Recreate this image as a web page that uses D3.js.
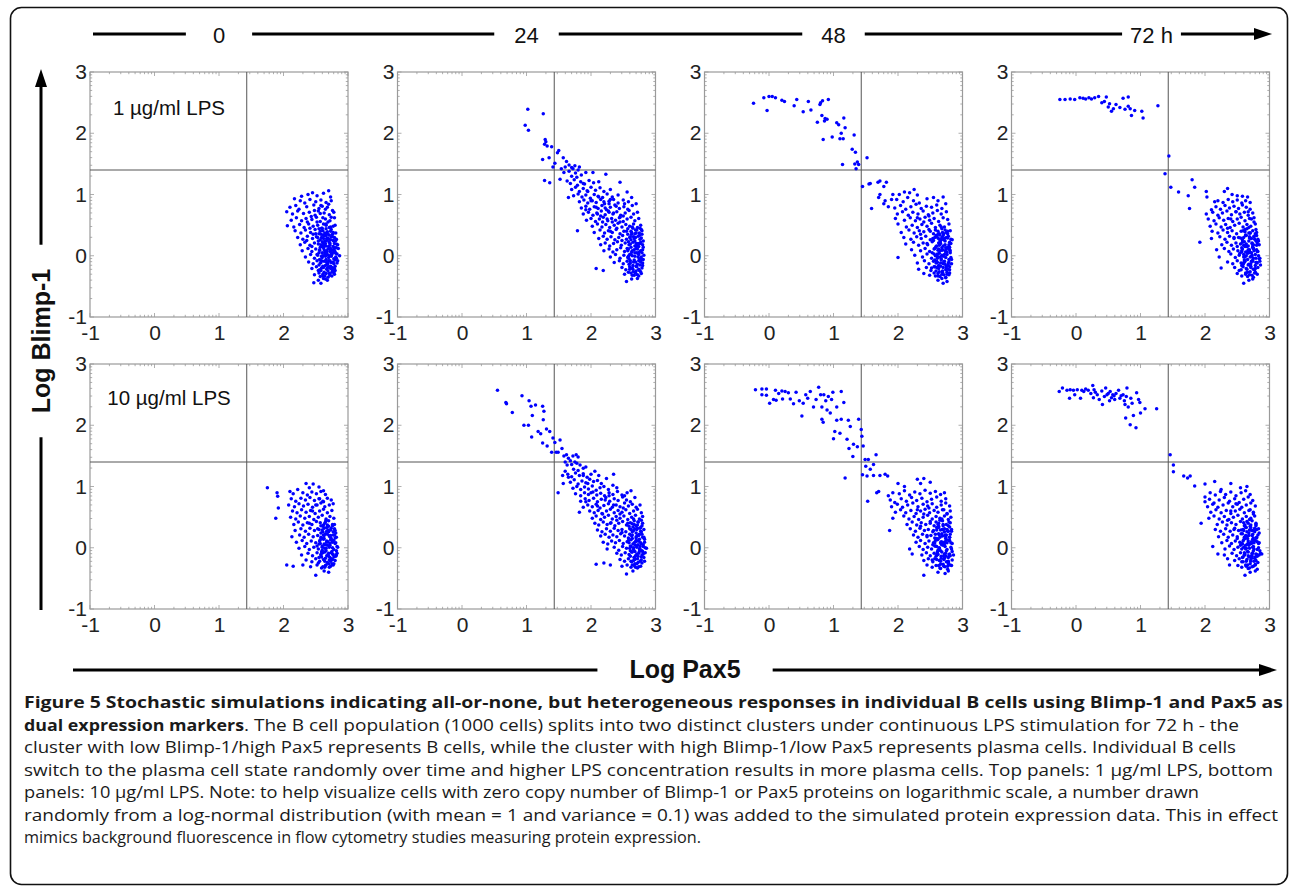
<!DOCTYPE html>
<html>
<head>
<meta charset="utf-8">
<script src="https://cdn.jsdelivr.net/npm/d3@7"></script>
<style>
  body { margin: 0; background: #fff; }
  svg text { font-family: "Liberation Sans", Arial, sans-serif; }
  .caption { font-family: "Open Sans", "Noto Sans", sans-serif; font-size: 15.5px; }
</style>
</head>
<body>
<svg width="1290" height="890"></svg>
<script>
// ---- data (log10 Pax5, log10 Blimp-1) ----
const lps1_0h = `
2.28,0.97 2.38,1.00 2.45,1.03 2.52,0.98 2.62,1.02 2.70,1.06 2.73,0.96
2.17,0.93 2.26,0.90 2.33,0.86 2.41,0.92 2.50,0.88 2.58,0.91 2.66,0.87 2.74,0.90
2.10,0.79 2.19,0.82 2.24,0.76 2.36,0.80 2.47,0.83 2.55,0.77 2.60,0.81 2.68,0.79 2.76,0.74
2.05,0.72 2.14,0.68 2.22,0.73 2.31,0.69 2.40,0.71 2.49,0.66 2.54,0.73 2.63,0.70 2.71,0.67 2.78,0.71
2.12,0.58 2.20,0.62 2.28,0.57 2.35,0.61 2.44,0.59 2.51,0.63 2.57,0.56 2.65,0.60 2.72,0.57 2.79,0.62
2.06,0.49 2.16,0.47 2.25,0.51 2.32,0.46 2.39,0.52 2.46,0.48 2.53,0.50 2.59,0.45 2.66,0.52 2.73,0.47 2.80,0.50
2.18,0.41 2.27,0.37 2.34,0.42 2.42,0.38 2.49,0.43 2.55,0.36 2.61,0.41 2.68,0.39 2.74,0.43 2.81,0.37
2.22,0.30 2.30,0.27 2.37,0.32 2.45,0.28 2.51,0.31 2.57,0.26 2.63,0.33 2.69,0.29 2.76,0.31 2.82,0.27
2.26,0.18 2.33,0.22 2.41,0.17 2.48,0.21 2.54,0.19 2.60,0.23 2.66,0.16 2.72,0.20 2.78,0.24 2.84,0.18
2.29,0.08 2.38,0.12 2.44,0.07 2.50,0.11 2.56,0.09 2.62,0.13 2.67,0.06 2.73,0.10 2.79,0.08 2.85,0.12
2.34,-0.02 2.42,0.02 2.48,-0.04 2.53,0.01 2.59,-0.01 2.64,0.03 2.70,-0.03 2.75,0.02 2.81,-0.02 2.87,0.00
2.39,-0.10 2.46,-0.13 2.52,-0.08 2.57,-0.12 2.63,-0.09 2.68,-0.14 2.74,-0.11 2.80,-0.07
2.44,-0.21 2.51,-0.18 2.56,-0.23 2.62,-0.19 2.67,-0.22 2.73,-0.17 2.79,-0.21
2.48,-0.31 2.55,-0.28 2.61,-0.33 2.66,-0.29 2.72,-0.32 2.78,-0.27
2.47,-0.44 2.54,-0.40 2.58,-0.45 2.65,-0.38
2.58,0.35 2.64,0.24 2.71,0.34 2.77,0.15 2.60,0.05 2.66,-0.06 2.72,0.07 2.78,-0.05 2.61,-0.17 2.69,-0.25
2.75,-0.19 2.81,0.04 2.57,0.14 2.63,-0.27 2.70,0.15 2.76,-0.24 2.59,-0.20 2.65,0.20 2.73,0.26 2.79,0.30
2.62,0.28 2.68,0.02 2.74,-0.01 2.80,0.13 2.56,-0.06 2.67,-0.11 2.71,-0.29 2.77,0.38 2.64,0.37 2.83,-0.12
2.58,-0.24 2.69,0.11 2.75,0.09 2.82,0.19 2.61,0.00 2.67,0.25 2.72,-0.08 2.78,-0.13 2.63,0.10 2.70,-0.18
2.76,0.05 2.80,-0.17 2.66,0.33 2.73,0.40 2.59,0.30 2.54,0.24 2.69,-0.35 2.75,-0.33 2.57,-0.34 2.65,-0.01
2.71,0.22 2.77,0.25 2.83,0.03 2.60,0.16 2.68,-0.20
2.37,0.55 2.43,0.64 2.48,0.74 2.52,0.55 2.57,0.69 2.62,0.52 2.41,0.45 2.46,0.35 2.55,0.44 2.61,0.62
2.69,0.55 2.74,0.63 2.36,0.25 2.44,0.15 2.50,0.36 2.58,0.82 2.65,0.76 2.70,0.84
2.52,0.02 2.55,-0.15 2.58,0.18 2.61,-0.30 2.64,0.06 2.67,0.28 2.70,-0.08 2.73,0.12 2.76,-0.20 2.79,0.20
2.82,-0.04 2.53,0.30 2.56,0.10 2.59,-0.08 2.62,0.20 2.65,-0.16 2.68,0.36 2.71,0.00 2.74,0.31 2.77,-0.10
2.80,0.06 2.84,-0.08 2.54,-0.24 2.57,0.40 2.60,-0.03 2.63,0.16 2.66,0.44 2.69,-0.12 2.72,0.17 2.75,-0.27
2.78,0.11 2.81,0.25 2.55,0.05 2.58,-0.11 2.61,0.34 2.64,-0.33 2.67,0.08 2.70,0.27 2.73,-0.21 2.76,0.35
2.79,-0.30 2.82,0.13 2.60,0.45 2.66,0.50 2.71,0.46 2.77,0.48 2.62,-0.37 2.68,-0.40 2.74,0.03 2.80,-0.24`;

const lps1_24h = `
1.02,2.39 0.98,2.13 1.03,2.05 1.26,2.32 1.29,1.90 1.28,1.82 1.32,1.79 1.39,1.78 1.50,1.72 1.25,1.57
1.44,1.51 1.41,1.45 1.28,1.23 1.36,1.19 1.52,1.25 1.57,1.60 1.62,1.54 1.54,1.42 1.60,1.45 1.66,1.48
1.70,1.44 1.30,1.86 1.48,1.68 1.35,1.60 1.58,1.36 1.79,0.41
1.66,1.38 1.72,1.42 1.76,1.35 1.80,1.40 1.85,1.32 1.70,1.30 1.78,1.28 1.92,1.36 1.75,1.47 1.82,1.45
1.63,1.22 1.68,1.18 1.74,1.24 1.79,1.15 1.84,1.21 1.90,1.17 1.97,1.23 2.04,1.19 2.12,1.21 2.23,1.33 2.03,1.36
1.70,1.08 1.76,1.12 1.82,1.05 1.88,1.10 1.94,1.06 2.00,1.12 2.07,1.07 2.14,1.11 2.20,1.05 2.30,1.08 2.45,1.20
1.65,0.95 1.73,0.98 1.80,1.01 1.86,0.96 1.92,0.99 1.99,0.94 2.05,1.00 2.11,0.97 2.18,0.95 2.25,1.01 2.33,0.96 2.42,0.99 2.56,1.04
1.82,0.88 1.89,0.91 1.95,0.86 2.02,0.90 2.08,0.87 2.15,0.92 2.21,0.85 2.28,0.89 2.35,0.92 2.42,0.86 2.50,0.91 2.58,0.88 2.63,0.95
1.85,0.78 1.92,0.81 1.98,0.76 2.05,0.80 2.11,0.77 2.17,0.82 2.24,0.75 2.30,0.79 2.37,0.83 2.44,0.77 2.51,0.80 2.57,0.76 2.64,0.82 2.70,0.85
1.88,0.68 1.96,0.71 2.03,0.66 2.09,0.70 2.16,0.73 2.22,0.67 2.28,0.71 2.34,0.68 2.40,0.72 2.46,0.66 2.53,0.70 2.59,0.74 2.66,0.68 2.72,0.71
1.93,0.58 2.00,0.61 2.07,0.56 2.13,0.60 2.19,0.63 2.26,0.57 2.32,0.61 2.38,0.58 2.44,0.62 2.50,0.56 2.56,0.60 2.62,0.63 2.68,0.57 2.74,0.61
2.02,0.48 2.10,0.52 2.17,0.47 2.23,0.51 2.29,0.46 2.36,0.50 2.42,0.53 2.48,0.47 2.54,0.51 2.60,0.48 2.66,0.52 2.72,0.46 2.77,0.50
2.05,0.38 2.14,0.42 2.21,0.37 2.27,0.41 2.33,0.38 2.39,0.43 2.45,0.36 2.51,0.40 2.57,0.44 2.63,0.38 2.69,0.42 2.75,0.37 2.79,0.41
2.12,0.28 2.19,0.32 2.25,0.27 2.31,0.31 2.37,0.26 2.43,0.30 2.49,0.33 2.55,0.27 2.61,0.31 2.67,0.28 2.73,0.32 2.78,0.29
2.15,0.18 2.22,0.21 2.29,0.16 2.35,0.20 2.41,0.23 2.47,0.17 2.53,0.21 2.59,0.18 2.65,0.22 2.71,0.16 2.76,0.20 2.81,0.24
2.20,0.08 2.28,0.11 2.34,0.06 2.40,0.10 2.46,0.13 2.52,0.07 2.58,0.11 2.64,0.08 2.70,0.12 2.75,0.06 2.80,0.10
2.30,-0.02 2.38,0.02 2.45,-0.04 2.51,0.01 2.57,-0.03 2.62,0.03 2.68,-0.01 2.73,0.04 2.78,-0.02 2.82,0.01
2.36,-0.11 2.44,-0.08 2.50,-0.13 2.56,-0.09 2.61,-0.12 2.67,-0.07 2.72,-0.14 2.77,-0.10 2.81,-0.06
2.08,-0.21 2.19,-0.24 2.48,-0.19 2.54,-0.23 2.60,-0.18 2.65,-0.22 2.70,-0.17 2.75,-0.24 2.79,-0.20
2.52,-0.30 2.58,-0.27 2.64,-0.32 2.69,-0.28 2.74,-0.33 2.78,-0.29
2.55,-0.42 2.63,-0.38 2.72,-0.37
2.60,0.02 2.66,-0.10 2.71,0.05 2.76,-0.15 2.62,0.14 2.68,0.24 2.74,0.15 2.79,0.35 2.58,0.23 2.64,-0.20
2.70,-0.25 2.77,0.08 2.63,0.35 2.69,0.30 2.75,-0.05 2.80,-0.12 2.61,-0.08 2.67,0.10 2.73,0.20 2.78,0.43
2.65,0.45 2.71,-0.18 2.59,-0.14 2.76,0.27 2.72,-0.31 2.66,-0.26 2.62,0.40 2.57,0.08 2.74,-0.08 2.80,0.18
2.68,0.05 2.70,0.37 2.64,0.00 2.77,-0.26 2.60,0.30
2.08,0.79 2.15,0.65 2.20,0.88 2.27,0.73 2.33,0.55 2.39,0.81 2.45,0.63 2.30,0.92 2.12,0.96 2.25,0.60
2.56,0.12 2.59,-0.05 2.62,0.26 2.65,-0.16 2.68,0.16 2.71,0.42 2.74,0.02 2.77,0.22 2.80,-0.16 2.57,0.35
2.60,-0.22 2.63,0.06 2.66,0.31 2.69,-0.10 2.72,0.11 2.75,0.33 2.78,-0.06 2.81,0.14 2.58,-0.01 2.61,0.19
2.64,0.47 2.67,-0.32 2.70,0.20 2.73,-0.02 2.76,0.45 2.79,0.05 2.55,0.40 2.62,-0.28 2.68,0.36 2.74,-0.22
2.45,0.55 2.50,0.65 2.40,0.45 2.35,0.70 2.48,0.25 2.52,0.85 2.30,0.40 2.22,0.78 2.18,0.55 2.28,0.85
2.10,0.68 2.00,0.90 1.95,1.05 1.88,1.18 1.92,0.75`;

const lps1_48h = `
-0.24,2.49 -0.08,2.58 0.00,2.60 0.05,2.60 0.10,2.58 0.20,2.54 0.24,2.52 -0.03,2.37 0.39,2.45 0.43,2.55
0.53,2.35 0.61,2.52 0.65,2.38 0.75,2.18 0.79,2.47 0.83,2.53 0.92,2.55 0.82,2.29 0.87,2.24 0.90,2.23
0.84,1.90 0.98,1.94 1.05,2.17 1.08,2.14 1.16,2.25 1.18,2.09 1.10,1.91 1.15,1.91 1.32,1.97 1.29,1.74
1.34,1.69 1.33,1.50 1.35,1.42 1.39,1.49 1.52,1.60 1.14,1.49 0.80,2.50 0.86,2.20 1.12,2.00 1.37,1.53
1.45,1.13 1.55,1.17 1.57,1.18 1.69,1.20 1.72,1.22 1.82,1.20 1.78,1.13 1.59,0.77 1.70,0.95 1.72,1.00
1.80,0.90 1.85,0.80 1.78,0.85 1.90,0.92 1.92,1.00
2.02,1.00 2.10,1.04 2.18,1.03 2.25,1.08 2.30,0.99
1.98,0.92 2.08,0.88 2.15,0.95 2.24,0.90 2.33,0.86 2.45,0.93 2.55,0.95 2.62,0.90 2.70,0.96
1.95,0.78 2.04,0.82 2.12,0.76 2.20,0.80 2.28,0.84 2.36,0.77 2.44,0.81 2.52,0.79 2.60,0.83 2.68,0.77 2.74,0.85
1.99,0.68 2.07,0.72 2.16,0.66 2.23,0.71 2.31,0.68 2.39,0.73 2.47,0.67 2.54,0.70 2.61,0.74 2.67,0.68 2.75,0.72
1.96,0.61 2.10,0.58 2.19,0.62 2.27,0.57 2.34,0.60 2.42,0.63 2.49,0.58 2.56,0.61 2.63,0.56 2.70,0.62 2.77,0.59
2.00,0.52 2.13,0.47 2.22,0.50 2.30,0.46 2.37,0.51 2.45,0.48 2.52,0.53 2.58,0.46 2.65,0.50 2.72,0.47 2.79,0.52
2.05,0.38 2.17,0.42 2.25,0.37 2.33,0.41 2.40,0.39 2.48,0.43 2.55,0.36 2.62,0.40 2.68,0.44 2.75,0.38 2.81,0.41
2.09,0.30 2.20,0.27 2.29,0.31 2.36,0.28 2.43,0.32 2.50,0.26 2.57,0.30 2.64,0.27 2.70,0.33 2.77,0.29 2.84,0.26
2.12,0.19 2.24,0.22 2.32,0.17 2.39,0.21 2.46,0.18 2.53,0.23 2.60,0.16 2.66,0.20 2.73,0.24 2.79,0.18
2.21,0.10 2.35,0.08 2.42,0.12 2.49,0.07 2.56,0.11 2.62,0.09 2.68,0.13 2.74,0.06 2.80,0.10
2.00,-0.03 2.26,0.01 2.38,-0.02 2.45,0.03 2.52,-0.04 2.58,0.00 2.64,0.04 2.70,-0.01 2.76,0.02 2.82,-0.03
2.30,-0.12 2.41,-0.08 2.48,-0.13 2.55,-0.09 2.61,-0.11 2.67,-0.07 2.73,-0.14 2.79,-0.10
2.32,-0.22 2.44,-0.19 2.51,-0.24 2.57,-0.18 2.63,-0.21 2.69,-0.25 2.75,-0.17 2.80,-0.23
2.40,-0.29 2.49,-0.32 2.56,-0.28 2.62,-0.33 2.68,-0.30 2.74,-0.35 2.79,-0.31
2.62,-0.40 2.70,-0.45 2.76,-0.42
2.59,0.33 2.65,0.22 2.71,0.36 2.77,0.14 2.61,0.03 2.67,-0.05 2.73,0.08 2.79,-0.06 2.63,-0.16 2.69,-0.27
2.75,-0.20 2.81,0.05 2.58,0.13 2.64,-0.26 2.70,0.16 2.76,-0.27 2.60,-0.19 2.66,0.25 2.72,0.28 2.78,0.32
2.62,0.29 2.68,0.01 2.74,-0.03 2.80,0.14 2.57,-0.07 2.66,-0.12 2.71,-0.31 2.77,0.40 2.64,0.36 2.83,-0.13
2.59,-0.25 2.69,0.10 2.75,0.11 2.82,0.20 2.61,-0.01 2.67,0.26 2.72,-0.09 2.78,-0.15 2.63,0.11 2.70,-0.19
2.76,0.06 2.80,-0.18 2.65,0.34 2.73,0.42 2.60,0.31 2.55,0.25 2.68,-0.37 2.74,-0.36 2.58,-0.33 2.65,-0.02
2.53,0.05 2.56,-0.18 2.59,0.15 2.62,-0.29 2.65,0.08 2.68,0.30 2.71,-0.10 2.74,0.13 2.77,-0.22 2.80,0.22
2.83,-0.06 2.54,0.28 2.57,0.12 2.60,-0.09 2.63,0.21 2.66,-0.17 2.69,0.38 2.72,0.02 2.75,0.30 2.78,-0.12
2.81,0.08 2.52,-0.20 2.58,0.42 2.61,-0.04 2.64,0.17 2.67,0.47 2.70,-0.13 2.73,0.18 2.76,-0.30 2.79,0.12
2.82,0.27 2.56,0.03 2.59,-0.12 2.62,0.35 2.65,-0.34 2.68,0.09 2.71,0.26 2.74,-0.23 2.77,0.36 2.80,-0.28
2.45,0.20 2.40,0.55 2.48,0.65 2.35,0.35 2.30,0.62 2.50,0.40`;

const lps1_72h = `
-0.25,2.55 -0.17,2.55 -0.09,2.56 -0.02,2.55 0.06,2.58 0.11,2.57 0.15,2.56 0.24,2.56 0.29,2.58 0.35,2.60
0.40,2.50 0.47,2.59 0.50,2.43 0.55,2.36 0.58,2.40 0.73,2.57 0.76,2.39 0.81,2.59 0.81,2.44 0.86,2.29
0.91,2.37 1.02,2.36 1.04,2.25 1.27,2.45 0.20,2.58 0.44,2.52 0.62,2.47 0.68,2.42 0.84,2.40 0.52,2.48
1.44,1.63 1.38,1.34 1.47,1.12 1.59,1.04 1.74,0.98 1.80,1.24 1.84,1.12 1.76,0.77 2.02,1.05 2.03,0.96
1.92,0.22
2.30,1.05 2.35,1.10 2.42,1.00 2.50,0.98 2.58,0.97 2.66,0.96
2.15,0.88 2.20,0.90 2.28,0.87 2.36,0.92 2.43,0.88 2.50,0.91 2.57,0.86 2.63,0.90 2.70,0.87
2.10,0.75 2.17,0.80 2.24,0.76 2.31,0.82 2.38,0.78 2.45,0.81 2.52,0.77 2.58,0.83 2.64,0.79 2.70,0.76
2.02,0.68 2.12,0.71 2.20,0.66 2.27,0.70 2.34,0.73 2.41,0.67 2.48,0.72 2.54,0.68 2.61,0.71 2.67,0.66 2.74,0.70
2.05,0.60 2.14,0.57 2.22,0.62 2.29,0.58 2.36,0.61 2.43,0.56 2.50,0.60 2.56,0.63 2.62,0.57 2.69,0.61 2.76,0.62
2.08,0.48 2.17,0.52 2.25,0.47 2.32,0.51 2.39,0.46 2.46,0.50 2.53,0.53 2.59,0.47 2.65,0.51 2.71,0.48 2.78,0.52
2.11,0.40 2.20,0.37 2.28,0.42 2.35,0.38 2.42,0.41 2.49,0.36 2.56,0.40 2.62,0.43 2.68,0.37 2.74,0.41 2.80,0.38
2.10,0.28 2.23,0.31 2.31,0.27 2.38,0.32 2.45,0.28 2.52,0.30 2.58,0.26 2.64,0.33 2.70,0.29 2.76,0.31 2.82,0.27
2.26,0.18 2.34,0.22 2.41,0.17 2.48,0.21 2.55,0.19 2.61,0.23 2.67,0.16 2.73,0.20 2.79,0.24 2.84,0.18
2.18,0.10 2.30,0.12 2.37,0.07 2.44,0.11 2.51,0.08 2.57,0.13 2.63,0.06 2.69,0.10 2.75,0.12 2.81,0.07
2.22,-0.02 2.40,0.03 2.47,-0.03 2.53,0.01 2.60,-0.02 2.66,0.04 2.72,-0.01 2.78,0.02 2.85,-0.04
2.35,-0.10 2.43,-0.13 2.50,-0.08 2.56,-0.12 2.62,-0.09 2.68,-0.14 2.74,-0.07 2.80,-0.11 2.86,-0.15
2.25,-0.20 2.46,-0.19 2.53,-0.24 2.59,-0.18 2.65,-0.22 2.71,-0.17 2.77,-0.23 2.82,-0.19
2.50,-0.29 2.57,-0.33 2.63,-0.28 2.69,-0.31 2.75,-0.35 2.81,-0.30
2.60,-0.45 2.68,-0.40 2.74,-0.38
2.60,0.02 2.66,-0.06 2.72,0.05 2.78,-0.16 2.62,0.15 2.68,0.24 2.74,0.14 2.80,0.33 2.58,0.22 2.64,-0.21
2.70,-0.26 2.76,0.08 2.63,0.34 2.69,0.31 2.75,-0.04 2.81,-0.12 2.61,-0.07 2.67,0.10 2.73,0.21 2.79,0.43
2.65,0.44 2.71,-0.19 2.59,-0.14 2.77,0.27 2.73,-0.32 2.66,-0.27 2.62,0.39 2.57,0.08 2.74,-0.09 2.80,0.17
2.68,0.05 2.70,0.37 2.64,0.00 2.78,-0.27 2.60,0.30 2.83,0.00 2.79,-0.04 2.76,0.55 2.72,0.60 2.67,0.72
2.70,-0.02 2.75,0.18
2.54,0.04 2.57,-0.16 2.60,0.17 2.63,-0.30 2.66,0.07 2.69,0.29 2.72,-0.09 2.75,0.12 2.78,-0.21 2.81,0.21
2.84,-0.05 2.55,0.29 2.58,0.11 2.61,-0.10 2.64,0.19 2.67,-0.15 2.70,0.37 2.73,0.01 2.76,0.32 2.79,-0.11
2.82,0.07 2.85,-0.09 2.56,-0.23 2.59,0.41 2.62,-0.02 2.65,0.15 2.68,0.46 2.71,-0.13 2.74,0.16 2.77,-0.28
2.80,0.10 2.83,0.24 2.57,0.06 2.60,-0.12 2.63,0.33 2.66,-0.34 2.69,0.07 2.72,0.28 2.75,-0.22 2.78,0.36
2.45,0.30 2.40,0.60 2.48,0.72 2.35,0.45 2.50,0.15`;

const lps10_0h = `
1.75,0.98 1.90,0.90 1.91,0.84 1.92,0.65 1.88,0.48 2.05,-0.28 2.15,-0.30 2.30,-0.28
2.35,1.05 2.40,0.98 2.46,1.04 2.55,0.99 2.62,0.93
2.10,0.92 2.15,0.88 2.22,0.95 2.30,0.90 2.37,0.86 2.44,0.91 2.51,0.88 2.58,0.92 2.65,0.87
2.12,0.80 2.19,0.76 2.27,0.81 2.34,0.78 2.41,0.82 2.48,0.77 2.55,0.80 2.61,0.76 2.68,0.81 2.74,0.78
2.08,0.70 2.17,0.67 2.24,0.72 2.31,0.68 2.38,0.71 2.45,0.66 2.52,0.70 2.58,0.73 2.64,0.67 2.71,0.70 2.77,0.72
2.14,0.60 2.21,0.57 2.28,0.62 2.35,0.58 2.42,0.61 2.49,0.56 2.56,0.60 2.62,0.63 2.68,0.57 2.75,0.61
2.11,0.50 2.19,0.47 2.26,0.52 2.33,0.48 2.40,0.51 2.47,0.46 2.54,0.50 2.60,0.53 2.66,0.47 2.72,0.51 2.78,0.48
2.16,0.38 2.23,0.42 2.30,0.37 2.37,0.41 2.44,0.38 2.51,0.43 2.58,0.36 2.64,0.40 2.70,0.44 2.76,0.38
2.18,0.28 2.27,0.31 2.34,0.27 2.41,0.32 2.48,0.28 2.55,0.30 2.61,0.26 2.67,0.33 2.73,0.29 2.79,0.31
2.13,0.18 2.25,0.21 2.32,0.17 2.39,0.22 2.46,0.18 2.53,0.20 2.59,0.16 2.65,0.23 2.71,0.19 2.77,0.21 2.82,0.17
2.20,0.09 2.29,0.12 2.36,0.07 2.43,0.11 2.50,0.08 2.57,0.13 2.63,0.06 2.69,0.10 2.75,0.12 2.81,0.08
2.24,-0.01 2.33,0.02 2.40,-0.03 2.47,0.01 2.54,-0.02 2.60,0.03 2.66,-0.01 2.72,0.04 2.78,-0.03 2.84,0.01
2.28,-0.12 2.38,-0.09 2.45,-0.13 2.52,-0.08 2.58,-0.11 2.64,-0.07 2.70,-0.14 2.76,-0.10 2.82,-0.12
2.35,-0.20 2.44,-0.23 2.50,-0.18 2.56,-0.22 2.62,-0.19 2.68,-0.24 2.74,-0.18 2.80,-0.21
2.42,-0.31 2.52,-0.28 2.59,-0.33 2.65,-0.29 2.71,-0.32 2.77,-0.28
2.50,-0.45 2.63,-0.38 2.70,-0.40
2.60,0.01 2.66,-0.05 2.72,0.07 2.78,-0.15 2.62,0.14 2.68,0.22 2.74,0.15 2.80,0.28 2.58,0.24 2.64,-0.22
2.70,-0.26 2.76,0.09 2.63,0.32 2.69,0.29 2.75,-0.06 2.81,-0.14 2.61,-0.08 2.67,0.11 2.73,0.20 2.79,0.38
2.65,0.42 2.71,-0.20 2.59,-0.15 2.77,0.26 2.73,-0.30 2.66,-0.28 2.62,0.37 2.57,0.07 2.74,-0.08 2.80,0.16
2.68,0.04 2.70,0.35 2.64,-0.01 2.78,-0.26 2.60,0.29 2.83,0.02 2.76,0.00 2.72,-0.16 2.67,-0.13 2.63,0.20
2.52,0.03 2.55,-0.16 2.58,0.17 2.61,-0.31 2.64,0.05 2.67,0.27 2.70,-0.09 2.73,0.13 2.76,-0.19 2.79,0.21
2.82,-0.05 2.53,0.31 2.56,0.11 2.59,-0.07 2.62,0.21 2.65,-0.17 2.68,0.37 2.71,0.01 2.74,0.32 2.77,-0.11
2.80,0.07 2.83,-0.09 2.54,-0.25 2.57,0.41 2.60,-0.04 2.63,0.15 2.66,0.45 2.69,-0.11 2.72,0.18 2.75,-0.26
2.78,0.12 2.81,0.24 2.55,0.06 2.58,-0.12 2.61,0.35 2.64,-0.32 2.67,0.09 2.70,0.26 2.73,-0.22 2.76,0.36
2.45,0.60 2.50,0.70 2.40,0.40 2.56,0.80 2.62,0.75`;

const lps10_24h = `
0.55,2.57 0.68,2.37 0.69,2.35 0.78,2.21 0.93,2.48 0.96,2.00 1.03,2.00 1.04,2.40 1.07,2.31 1.14,2.33
1.09,2.16 1.25,2.31 1.27,2.23 1.26,2.09 1.08,1.81 1.18,1.90 1.22,1.86 1.31,1.94 1.36,1.90 1.25,1.71
1.32,1.66 1.41,1.79 1.44,1.72 1.52,1.76 1.46,1.56 1.49,1.56 1.39,1.56 1.49,0.90 1.55,1.62 1.58,1.50
1.62,1.52 1.65,1.46 1.60,1.40 1.63,1.35 1.68,1.42 1.72,1.50 1.77,1.52 1.80,1.48 1.75,1.40 1.56,1.18
1.60,1.25 1.65,1.15 1.57,1.05
1.70,1.36 1.78,1.38 1.83,1.35 1.88,1.30 1.73,1.28 1.80,1.26 1.92,1.32
1.64,1.20 1.70,1.16 1.76,1.22 1.82,1.18 1.88,1.21 1.94,1.15 2.00,1.20 2.06,1.25 2.12,1.18
1.68,1.07 1.74,1.11 1.80,1.04 1.86,1.09 1.92,1.06 1.98,1.12 2.04,1.08 2.10,1.10 2.16,1.05 2.24,1.13 2.35,1.20
1.72,0.97 1.78,1.00 1.84,0.95 1.90,0.99 1.96,0.96 2.02,1.01 2.08,0.94 2.14,0.98 2.20,1.00 2.27,0.95 2.34,1.02 2.40,0.98
1.76,0.88 1.84,0.85 1.90,0.90 1.96,0.87 2.03,0.91 2.09,0.86 2.15,0.89 2.21,0.85 2.28,0.90 2.34,0.87 2.41,0.92 2.48,0.86 2.56,0.90 2.62,0.93
1.84,0.76 1.91,0.80 1.97,0.77 2.04,0.81 2.10,0.75 2.16,0.79 2.23,0.82 2.29,0.76 2.36,0.80 2.42,0.77 2.49,0.83 2.55,0.78 2.61,0.75 2.68,0.82
1.88,0.66 1.95,0.70 2.02,0.67 2.08,0.71 2.14,0.65 2.20,0.69 2.27,0.72 2.33,0.66 2.39,0.70 2.45,0.67 2.52,0.73 2.58,0.68 2.64,0.71 2.70,0.66 2.76,0.70
1.82,0.58 1.98,0.60 2.05,0.57 2.11,0.61 2.17,0.56 2.24,0.60 2.30,0.63 2.36,0.57 2.42,0.61 2.48,0.58 2.54,0.62 2.60,0.56 2.66,0.60 2.72,0.63 2.78,0.57
2.02,0.48 2.08,0.52 2.15,0.46 2.21,0.50 2.27,0.53 2.33,0.47 2.39,0.51 2.45,0.48 2.51,0.52 2.57,0.46 2.63,0.50 2.69,0.53 2.75,0.47 2.80,0.51
2.06,0.40 2.12,0.37 2.19,0.42 2.25,0.38 2.31,0.41 2.37,0.36 2.43,0.40 2.49,0.43 2.55,0.37 2.61,0.41 2.67,0.38 2.73,0.42 2.79,0.36
2.10,0.29 2.17,0.26 2.24,0.31 2.30,0.27 2.36,0.32 2.42,0.28 2.48,0.30 2.54,0.26 2.60,0.31 2.66,0.28 2.72,0.32 2.77,0.27 2.82,0.30
2.15,0.19 2.22,0.22 2.28,0.17 2.34,0.21 2.40,0.18 2.46,0.23 2.52,0.19 2.58,0.16 2.64,0.21 2.70,0.18 2.75,0.22 2.80,0.17
2.19,0.09 2.26,0.06 2.32,0.11 2.38,0.08 2.44,0.12 2.50,0.07 2.56,0.10 2.62,0.13 2.67,0.08 2.73,0.11 2.78,0.06 2.83,0.09
2.25,-0.02 2.36,0.01 2.43,-0.04 2.49,0.02 2.55,-0.01 2.61,0.03 2.66,-0.03 2.71,0.01 2.76,-0.02 2.81,0.02 2.86,-0.01
2.40,-0.09 2.47,-0.12 2.53,-0.08 2.59,-0.11 2.64,-0.07 2.69,-0.13 2.74,-0.09 2.79,-0.12 2.84,-0.08
2.08,-0.27 2.20,-0.25 2.30,-0.28 2.45,-0.19 2.52,-0.22 2.58,-0.18 2.63,-0.23 2.68,-0.19 2.73,-0.24 2.78,-0.20 2.83,-0.22
2.48,-0.30 2.56,-0.28 2.62,-0.32 2.67,-0.29 2.72,-0.33 2.77,-0.30
2.55,-0.43 2.65,-0.38
2.62,0.02 2.68,-0.06 2.73,0.05 2.78,-0.15 2.64,0.15 2.70,0.24 2.75,0.14 2.80,0.40 2.60,0.22 2.66,-0.21
2.71,-0.26 2.77,0.08 2.65,0.34 2.71,0.30 2.76,-0.04 2.81,-0.10 2.63,-0.07 2.69,0.10 2.74,0.20 2.67,0.44
2.72,-0.18 2.61,-0.14 2.78,0.26 2.74,-0.31 2.68,-0.26 2.64,0.39 2.59,0.08 2.75,-0.06 2.82,0.17 2.69,0.04
2.72,0.37 2.66,0.00 2.79,-0.25 2.62,0.30 2.84,0.00 2.79,-0.05 2.73,-0.14 2.70,0.12 2.67,-0.16 2.76,0.32
2.58,0.12 2.61,-0.05 2.64,0.26 2.67,-0.16 2.70,0.16 2.73,0.42 2.76,0.02 2.79,0.22 2.82,-0.16 2.59,0.35
2.62,-0.22 2.65,0.06 2.68,0.31 2.71,-0.10 2.74,0.11 2.77,0.33 2.80,-0.06 2.83,0.14 2.60,-0.01 2.63,0.19
2.66,0.47 2.69,-0.32 2.72,0.20 2.75,-0.02 2.78,0.45 2.81,0.05 2.57,0.40 2.64,-0.28 2.70,0.36 2.76,-0.22
2.45,0.55 2.50,0.65 2.40,0.45 2.35,0.70 2.48,0.25 2.52,0.85 2.30,0.40 2.22,0.78 2.18,0.55 2.28,0.85
2.10,0.68 2.00,0.90 1.95,1.05 1.88,1.18 1.92,0.75`;

const lps10_48h = `
-0.21,2.58 -0.11,2.59 -0.04,2.59 -0.11,2.50 -0.04,2.49 0.01,2.36 0.10,2.57 0.07,2.42 0.11,2.41 0.20,2.56
0.25,2.55 0.21,2.43 0.30,2.53 0.33,2.43 0.38,2.35 0.42,2.54 0.51,2.15 0.53,2.36 0.57,2.50 0.64,2.55
0.60,2.44 0.69,2.30 0.77,2.62 0.80,2.50 0.85,2.50 0.82,2.30 0.73,2.42 0.88,2.40 0.97,2.42 0.99,2.54
1.12,2.55 1.16,2.37 0.82,2.10 0.84,2.05 0.95,2.20 1.00,1.78 1.02,1.90 1.05,2.08 1.10,1.87 1.12,2.10
1.23,2.08 1.26,1.98 1.39,2.10 1.43,1.93 1.44,1.82 1.21,1.77 1.24,1.62 1.31,1.69 1.37,1.65 1.46,1.66
1.30,1.49 1.18,1.14 1.49,1.44 1.54,1.44 1.50,1.33 1.62,1.36 1.66,1.52 1.57,1.28 1.45,1.19 1.52,1.17
1.62,1.18 1.72,1.18 1.80,1.20 1.84,1.17 1.67,0.90 1.53,0.76 1.70,0.92 0.92,2.47 0.47,2.40 0.15,2.52
1.05,2.30 0.90,2.25
2.30,1.12 2.40,1.13 2.35,1.05 2.50,1.07 2.00,1.05 2.10,1.00
1.85,0.85 1.92,0.90 2.02,0.88 2.10,0.93 2.18,0.86 2.26,0.91 2.34,0.88 2.42,0.94 2.50,0.89 2.58,0.92 2.66,0.87 2.72,0.90
1.88,0.78 1.95,0.74 2.05,0.80 2.13,0.76 2.21,0.82 2.29,0.77 2.37,0.81 2.45,0.75 2.52,0.79 2.60,0.83 2.67,0.76 2.74,0.80
1.90,0.67 1.99,0.71 2.07,0.66 2.15,0.70 2.23,0.73 2.31,0.67 2.39,0.71 2.46,0.68 2.53,0.72 2.60,0.66 2.67,0.70 2.74,0.73 2.80,0.68
1.96,0.58 2.04,0.62 2.12,0.57 2.20,0.61 2.28,0.56 2.35,0.60 2.42,0.63 2.49,0.57 2.56,0.61 2.62,0.58 2.69,0.62 2.76,0.56 2.81,0.60
1.92,0.48 2.09,0.52 2.17,0.47 2.25,0.51 2.32,0.46 2.39,0.50 2.46,0.53 2.53,0.47 2.59,0.51 2.65,0.48 2.72,0.52 2.78,0.46
2.14,0.38 2.22,0.42 2.29,0.37 2.36,0.41 2.43,0.38 2.50,0.43 2.56,0.36 2.63,0.40 2.69,0.44 2.75,0.38 2.81,0.41
1.87,0.28 2.19,0.31 2.27,0.27 2.34,0.32 2.41,0.28 2.47,0.30 2.54,0.26 2.60,0.33 2.66,0.29 2.72,0.31 2.78,0.27 2.83,0.30
2.24,0.21 2.31,0.17 2.38,0.22 2.45,0.18 2.51,0.20 2.57,0.16 2.63,0.23 2.69,0.19 2.75,0.21 2.80,0.17
2.28,0.09 2.35,0.12 2.42,0.07 2.48,0.11 2.55,0.08 2.61,0.13 2.67,0.06 2.73,0.10 2.79,0.12 2.84,0.07
2.18,-0.02 2.33,0.02 2.39,-0.03 2.46,0.01 2.52,-0.02 2.58,0.03 2.64,-0.01 2.70,0.04 2.76,-0.03 2.82,0.01
2.22,-0.10 2.37,-0.12 2.44,-0.08 2.50,-0.13 2.56,-0.09 2.62,-0.11 2.68,-0.07 2.74,-0.14 2.80,-0.10 2.86,-0.12
2.40,-0.21 2.47,-0.18 2.54,-0.23 2.60,-0.19 2.66,-0.22 2.72,-0.17 2.78,-0.24 2.84,-0.20
2.45,-0.28 2.53,-0.32 2.59,-0.29 2.65,-0.33 2.71,-0.30 2.77,-0.35 2.83,-0.29
2.40,-0.45 2.62,-0.40 2.73,-0.42 2.78,-0.38
2.60,0.02 2.66,-0.05 2.72,0.06 2.78,-0.16 2.62,0.14 2.68,0.23 2.74,0.15 2.80,0.34 2.58,0.22 2.64,-0.21
2.70,-0.27 2.76,0.08 2.63,0.33 2.69,0.30 2.75,-0.05 2.81,-0.13 2.61,-0.07 2.67,0.10 2.73,0.21 2.79,0.42
2.65,0.45 2.71,-0.19 2.59,-0.14 2.77,0.27 2.73,-0.31 2.66,-0.27 2.62,0.38 2.57,0.08 2.74,-0.09 2.80,0.17
2.68,0.05 2.70,0.36 2.64,0.00 2.78,-0.26 2.60,0.29 2.83,-0.02 2.76,0.55 2.71,0.62 2.82,0.50 2.67,-0.14
2.54,0.05 2.57,-0.18 2.60,0.15 2.63,-0.29 2.66,0.08 2.69,0.30 2.72,-0.10 2.75,0.13 2.78,-0.22 2.81,0.22
2.84,-0.06 2.55,0.28 2.58,0.12 2.61,-0.09 2.64,0.21 2.67,-0.17 2.70,0.38 2.73,0.02 2.76,0.30 2.79,-0.12
2.82,0.08 2.53,-0.20 2.59,0.42 2.62,-0.04 2.65,0.17 2.68,0.47 2.71,-0.13 2.74,0.18 2.77,-0.30 2.80,0.12
2.83,0.27 2.57,0.03 2.60,-0.12 2.63,0.35 2.66,-0.34 2.69,0.09 2.72,0.26 2.75,-0.23 2.78,0.36 2.81,-0.28
2.45,0.20 2.40,0.55 2.48,0.65 2.35,0.35 2.30,0.62 2.50,0.40`;

const lps10_72h = `
-0.26,2.55 -0.21,2.61 -0.14,2.57 -0.09,2.58 -0.10,2.44 -0.04,2.57 0.02,2.58 0.09,2.57 0.07,2.44 0.15,2.59
0.19,2.57 0.23,2.52 0.26,2.65 0.28,2.58 0.30,2.54 0.27,2.45 0.36,2.42 0.41,2.34 0.44,2.47 0.46,2.61
0.50,2.52 0.53,2.55 0.57,2.50 0.59,2.48 0.52,2.40 0.60,2.42 0.66,2.57 0.70,2.48 0.73,2.50 0.78,2.47
0.79,2.61 0.76,2.34 0.81,2.30 0.77,2.12 0.84,2.01 0.93,1.96 0.89,2.16 0.94,2.53 0.97,2.42 0.99,2.37
1.00,2.20 1.07,2.27 1.25,2.27 0.62,2.52 0.55,2.45 0.48,2.50 0.68,2.44 0.85,2.44 0.40,2.56 0.12,2.55
0.33,2.50 -0.02,2.50 0.75,2.40 0.87,2.36
1.46,1.52 1.51,1.35 1.51,1.24 1.67,1.17 1.73,1.14 1.77,1.17 1.84,1.01 2.00,1.04 1.94,0.40
2.15,1.08 2.25,0.95 2.40,1.05 2.55,0.98 2.65,1.00
2.00,0.83 2.08,0.90 2.16,0.86 2.24,0.92 2.32,0.87 2.40,0.91 2.48,0.85 2.56,0.90 2.63,0.93 2.70,0.87
2.00,0.75 2.07,0.79 2.14,0.73 2.22,0.78 2.30,0.82 2.38,0.76 2.46,0.80 2.53,0.74 2.60,0.79 2.67,0.83 2.74,0.77
2.04,0.67 2.12,0.71 2.20,0.66 2.28,0.70 2.36,0.73 2.43,0.67 2.50,0.71 2.57,0.66 2.64,0.70 2.71,0.73 2.78,0.68
2.09,0.58 2.17,0.62 2.25,0.57 2.33,0.61 2.40,0.56 2.47,0.60 2.54,0.63 2.61,0.57 2.68,0.61 2.75,0.58
2.06,0.48 2.14,0.52 2.22,0.47 2.30,0.51 2.37,0.46 2.44,0.50 2.51,0.53 2.58,0.47 2.64,0.51 2.71,0.48 2.77,0.52
2.19,0.38 2.27,0.42 2.34,0.37 2.41,0.41 2.48,0.38 2.55,0.43 2.61,0.36 2.67,0.40 2.73,0.44 2.79,0.38
2.16,0.30 2.24,0.27 2.32,0.31 2.39,0.27 2.46,0.32 2.52,0.28 2.59,0.30 2.65,0.26 2.71,0.33 2.77,0.29 2.83,0.31
2.21,0.18 2.29,0.22 2.36,0.17 2.43,0.21 2.50,0.18 2.56,0.23 2.62,0.16 2.68,0.20 2.74,0.22 2.80,0.17
2.26,0.08 2.34,0.12 2.41,0.07 2.47,0.11 2.54,0.09 2.60,0.13 2.66,0.06 2.72,0.10 2.78,0.12 2.84,0.08
2.12,0.02 2.31,-0.02 2.38,0.03 2.45,-0.03 2.51,0.01 2.57,-0.02 2.63,0.04 2.69,-0.01 2.75,0.02 2.81,-0.03 2.88,-0.10
2.20,-0.10 2.30,-0.12 2.42,-0.09 2.49,-0.13 2.55,-0.08 2.61,-0.12 2.67,-0.07 2.73,-0.14 2.79,-0.10 2.84,-0.12
2.35,-0.18 2.46,-0.21 2.53,-0.18 2.59,-0.23 2.65,-0.19 2.71,-0.22 2.77,-0.17 2.82,-0.24
2.38,-0.28 2.51,-0.29 2.57,-0.32 2.63,-0.28 2.69,-0.33 2.75,-0.30 2.81,-0.35
2.62,-0.45 2.70,-0.40 2.78,-0.38
2.60,0.01 2.66,-0.06 2.72,0.07 2.78,-0.15 2.62,0.15 2.68,0.24 2.74,0.14 2.80,0.30 2.58,0.23 2.64,-0.22
2.70,-0.26 2.76,0.08 2.63,0.33 2.69,0.29 2.75,-0.05 2.81,-0.14 2.61,-0.08 2.67,0.11 2.73,0.20 2.79,0.40
2.65,0.43 2.71,-0.20 2.59,-0.15 2.77,0.26 2.73,-0.31 2.66,-0.28 2.62,0.37 2.57,0.07 2.74,-0.09 2.80,0.16
2.68,0.04 2.70,0.35 2.64,-0.01 2.78,-0.27 2.60,0.28 2.83,0.00 2.76,-0.02 2.72,-0.17 2.67,-0.13 2.63,0.20
2.75,0.55 2.70,0.62
2.55,0.04 2.58,-0.16 2.61,0.17 2.64,-0.30 2.67,0.07 2.70,0.29 2.73,-0.09 2.76,0.12 2.79,-0.21 2.82,0.21
2.85,-0.05 2.56,0.29 2.59,0.11 2.62,-0.10 2.65,0.19 2.68,-0.15 2.71,0.37 2.74,0.01 2.77,0.32 2.80,-0.11
2.83,0.07 2.86,-0.09 2.57,-0.23 2.60,0.41 2.63,-0.02 2.66,0.15 2.69,0.46 2.72,-0.13 2.75,0.16 2.78,-0.28
2.81,0.10 2.84,0.24 2.58,0.06 2.61,-0.12 2.64,0.33 2.67,-0.34 2.70,0.07 2.73,0.28 2.76,-0.22 2.79,0.36
2.45,0.30 2.40,0.60 2.48,0.72 2.35,0.45 2.50,0.15`;

const timeLabels = ["0", "24", "48", "72 h"];
const doseLabels = ["1 µg/ml LPS", "10 µg/ml LPS"];
const tickValues = [-1, 0, 1, 2, 3];
const gatePax5 = 1.43;
const gateBlimp = 1.4;

const captionLines = [
  [["Figure 5 Stochastic simulations indicating all-or-none, but heterogeneous responses in individual B cells using Blimp-1 and Pax5 as", true]],
  [["dual expression markers", true], [". The B cell population (1000 cells) splits into two distinct clusters under continuous LPS stimulation for 72 h - the", false]],
  [["cluster with low Blimp-1/high Pax5 represents B cells, while the cluster with high Blimp-1/low Pax5 represents plasma cells. Individual B cells", false]],
  [["switch to the plasma cell state randomly over time and higher LPS concentration results in more plasma cells. Top panels: 1 µg/ml LPS, bottom", false]],
  [["panels: 10 µg/ml LPS. Note: to help visualize cells with zero copy number of Blimp-1 or Pax5 proteins on logarithmic scale, a number drawn", false]],
  [["randomly from a log-normal distribution (with mean = 1 and variance = 0.1) was added to the simulated protein expression data. This in effect", false]],
  [["mimics background fluorescence in flow cytometry studies measuring protein expression.", false]]
];
const captionEnds = [[1283], [244, 1239], [1236], [1273], [1199], [1278], [701]];

// ---- layout ----
const colLeft = [90, 397.5, 704.5, 1011.5];
const rowTop = [72, 364];
const pw = 258, ph = 245;

const svg = d3.select("svg");
const parsePts = s => s.trim().split(/\s+/).map(p => p.split(",").map(Number));
const panels = [
  [lps1_0h, lps1_24h, lps1_48h, lps1_72h],
  [lps10_0h, lps10_24h, lps10_48h, lps10_72h]
];

const x = d3.scaleLinear().domain([-1, 3]).range([0, pw]);
const y = d3.scaleLinear().domain([-1, 3]).range([ph, 0]);

const minorTicks = [];
for (let d = -1; d < 3; d++) for (let k = 2; k <= 9; k++) minorTicks.push(d + Math.log10(k));

// outer frame
svg.append("rect")
  .attr("x", 10.5).attr("y", 7.5)
  .attr("width", 1277).attr("height", 877)
  .attr("rx", 11)
  .attr("fill", "none").attr("stroke", "#111").attr("stroke-width", 1.6);

panels.forEach((row, r) => row.forEach((str, c) => {
  const g = svg.append("g").attr("transform", `translate(${colLeft[c]},${rowTop[r]})`);

  // inward ticks on all four sides
  const tk = g.append("g").attr("stroke", "#9a9a9a").attr("stroke-width", 0.8);
  [[tickValues, 4], [minorTicks, 2.2]].forEach(([vals, len]) => {
    vals.forEach(v => {
      tk.append("line").attr("x1", x(v)).attr("x2", x(v)).attr("y1", ph).attr("y2", ph - len);
      tk.append("line").attr("x1", x(v)).attr("x2", x(v)).attr("y1", 0).attr("y2", len);
      tk.append("line").attr("y1", y(v)).attr("y2", y(v)).attr("x1", 0).attr("x2", len);
      tk.append("line").attr("y1", y(v)).attr("y2", y(v)).attr("x1", pw).attr("x2", pw - len);
    });
  });

  g.append("rect")
    .attr("width", pw).attr("height", ph)
    .attr("fill", "none").attr("stroke", "#9a9a9a").attr("stroke-width", 1.2);

  // gate lines
  g.append("line")
    .attr("x1", x(gatePax5)).attr("x2", x(gatePax5)).attr("y1", 0).attr("y2", ph)
    .attr("stroke", "#555").attr("stroke-width", 1);
  g.append("line")
    .attr("x1", 0).attr("x2", pw).attr("y1", y(gateBlimp)).attr("y2", y(gateBlimp))
    .attr("stroke", "#555").attr("stroke-width", 1);

  g.append("g").selectAll("circle")
    .data(parsePts(str))
    .join("circle")
    .attr("cx", d => x(d[0]))
    .attr("cy", d => y(d[1]))
    .attr("r", 1.75)
    .attr("fill", "#0000ff");

  const xa = g.append("g").attr("transform", `translate(0,${ph})`)
    .call(d3.axisBottom(x).tickValues(tickValues).tickFormat(d => String(d)).tickSize(0).tickPadding(8));
  const ya = g.append("g")
    .call(d3.axisLeft(y).tickValues(tickValues).tickFormat(d => String(d)).tickSize(0).tickPadding(3));
  [xa, ya].forEach(a => {
    a.select(".domain").remove();
    a.attr("font-family", null).attr("font-size", null);
    a.selectAll("text").attr("font-size", 21).attr("fill", "#222");
  });

  if (c === 0) {
    g.append("text")
      .attr("x", 79).attr("y", r === 0 ? 43 : 41)
      .attr("text-anchor", "middle")
      .attr("font-size", 20.5).attr("fill", "#111")
      .text(doseLabels[r]);
  }
}));

// label sitting on a thick line, with a white gap around it
function gapLabel(node, pad) {
  const b = node.node().getBBox();
  svg.insert("rect", () => node.node())
    .attr("x", b.x - pad[0]).attr("y", b.y - pad[1])
    .attr("width", b.width + pad[0] * 2).attr("height", b.height + pad[1] * 2)
    .attr("fill", "#fff");
}

// time line across the top
svg.append("line").attr("x1", 93).attr("x2", 1258).attr("y1", 34).attr("y2", 34)
  .attr("stroke", "#000").attr("stroke-width", 3);
svg.append("path").attr("d", "M1272,34 L1254,28 L1254,40 Z").attr("fill", "#000");
const timePad = [27, 20, 19, 8];
timeLabels.forEach((t, i) => {
  const cx = colLeft[i] + pw / 2 + (i === 3 ? 11 : 0);
  const tx = svg.append("text")
    .attr("x", cx).attr("y", 43)
    .attr("text-anchor", "middle")
    .attr("font-size", 22).attr("fill", "#111")
    .text(t);
  gapLabel(tx, [timePad[i], 4]);
});

// y title with arrow
svg.append("line").attr("x1", 41).attr("x2", 41).attr("y1", 610).attr("y2", 84)
  .attr("stroke", "#000").attr("stroke-width", 3);
svg.append("path").attr("d", "M41,69 L35,87 L47,87 Z").attr("fill", "#000");
const yTitle = svg.append("text")
  .attr("transform", "translate(50,341) rotate(-90)")
  .attr("text-anchor", "middle")
  .attr("font-size", 25).attr("font-weight", "bold").attr("fill", "#111")
  .text("Log Blimp-1");
{
  const b = yTitle.node().getBBox();
  svg.insert("rect", () => yTitle.node())
    .attr("x", 30).attr("y", 341 - b.width / 2 - 24)
    .attr("width", 24).attr("height", b.width + 48)
    .attr("fill", "#fff");
}

// x title with arrow
svg.append("line").attr("x1", 73).attr("x2", 1262).attr("y1", 670).attr("y2", 670)
  .attr("stroke", "#000").attr("stroke-width", 3);
svg.append("path").attr("d", "M1277,670 L1259,664 L1259,676 Z").attr("fill", "#000");
const xTitle = svg.append("text")
  .attr("x", 685).attr("y", 678)
  .attr("text-anchor", "middle")
  .attr("font-size", 25).attr("font-weight", "bold").attr("fill", "#111")
  .text("Log Pax5");
gapLabel(xTitle, [32, 2]);

// caption
const capX = 24;
captionLines.forEach((parts, i) => {
  let x0 = capX;
  parts.forEach(([t, bold], j) => {
    const x1 = captionEnds[i][j];
    svg.append("text")
      .attr("class", "caption")
      .attr("x", x0).attr("y", 708 + i * 22.5)
      .attr("font-weight", bold ? "bold" : "normal")
      .attr("fill", "#1a1a1a")
      .attr("textLength", x1 - x0)
      .attr("lengthAdjust", "spacingAndGlyphs")
      .text(t);
    x0 = x1;
  });
});
</script>
</body>
</html>
